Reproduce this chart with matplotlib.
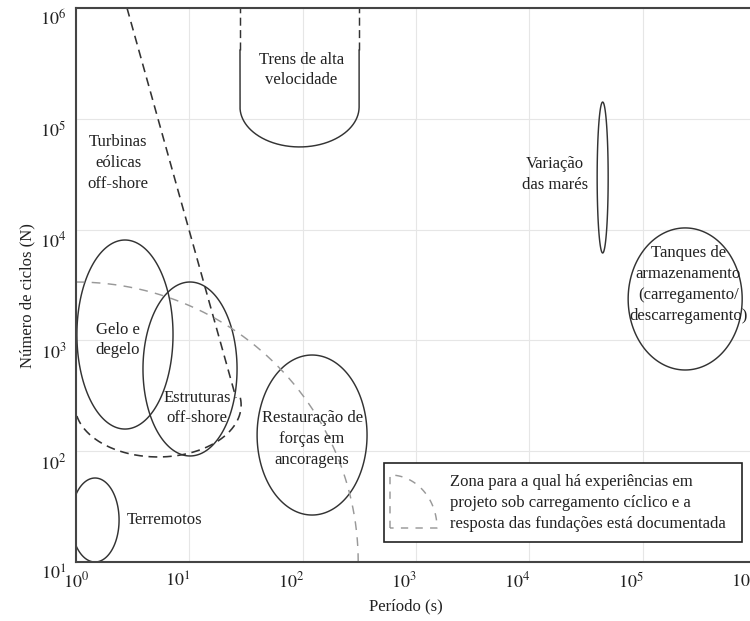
import numpy as np
import matplotlib
matplotlib.use("Agg")
import matplotlib.pyplot as plt
import matplotlib.transforms as mtransforms

plt.rcParams['font.family'] = ['Liberation Serif', 'DejaVu Serif']
plt.rcParams['mathtext.fontset'] = 'stix'

# ---------------- data (log10 units) ----------------
event_labels = ["Terremotos", "Gelo e\ndegelo", "Estruturas\noff-shore",
                "Restauração de\nforças em\nancoragens", "Variação\ndas marés",
                "Tanques de\narmazenamento\n(carregamento/\ndescarregamento)"]
log_period_center = [0.168, 0.432, 1.006, 2.083, 4.647, 5.375]
log_cycles_center = [1.379, 3.053, 2.742, 2.146, 4.470, 3.374]
period_halfspan_dec = [0.212, 0.424, 0.415, 0.485, 0.0485, 0.503]
cycles_halfspan_dec = [0.379, 0.853, 0.785, 0.722, 0.681, 0.641]
label_log_period = [0.450, 0.371, 1.068, 2.083, 4.228, 5.402]
label_log_cycles = [1.379, 3.004, 2.390, 2.110, 4.497, 3.505]
label_ha = ["left", "center", "center", "center", "center", "center"]

# high-speed trains (open-topped U shape)
trens_log_period_edges = [1.447, 2.498]
trens_log_cycles_arc_center = 5.107
trens_log_cycles_arc_half = 0.361
trens_log_cycles_dash_start = 5.62
trens_log_cycles_top = 6.0
trens_label = "Trens de alta\nvelocidade"
trens_label_pos = (1.986, 5.440)

# offshore wind turbines zone
turb_line_log_period = [0.45, 1.412]
turb_line_log_cycles = [6.0, 2.48]
turb_arc_center = (0.724, 2.417)
turb_arc_half = (0.733, 0.469)
turb_label = "Turbinas\neólicas\noff-shore"
turb_label_pos = (0.371, 4.601)

# documented-experience zone (quarter ellipse from lower-left corner)
zone_origin = (0.0, 1.0)
zone_radii = (2.49, 2.527)
legend_text = ("Zona para a qual há experiências em\n"
               "projeto sob carregamento cíclico e a\n"
               "resposta das fundações está documentada")

x_tick_exp = [0, 1, 2, 3, 4, 5, 6]
y_tick_exp = [1, 2, 3, 4, 5, 6]

# ---------------- figure ----------------
W, H = 750, 621
fig = plt.figure(figsize=(W / 100, H / 100), dpi=100)
ax_l, ax_r, ax_t, ax_b = 76, 756, 8, 562
ax = fig.add_axes([ax_l / W, (H - ax_b) / H, (ax_r - ax_l) / W, (ax_b - ax_t) / H])
ax.set_xscale('log')
ax.set_yscale('log')
ax.set_xlim(1e0, 1e6)
ax.set_ylim(1e1, 1e6)

line_col = '#333333'
text_col = '#222222'
lw = 1.05
fs = 12
ls_lab = 1.4

def arc(uc, vc, du, dv, t0, t1, **kw):
    t = np.linspace(t0, t1, 400)
    ax.plot(10 ** (uc + du * np.cos(t)), 10 ** (vc + dv * np.sin(t)), **kw)

# ellipses (closed outlines)
for uc, vc, du, dv in zip(log_period_center, log_cycles_center,
                          period_halfspan_dec, cycles_halfspan_dec):
    t = np.linspace(0, 2 * np.pi, 400, endpoint=False)
    ax.fill(10 ** (uc + du * np.cos(t)), 10 ** (vc + dv * np.sin(t)),
            fill=False, edgecolor=line_col, lw=lw)

for lab, u, v, ha in zip(event_labels, label_log_period, label_log_cycles, label_ha):
    ax.text(10 ** u, 10 ** v, lab, ha=ha, va='center', fontsize=fs,
            linespacing=ls_lab, color=text_col)

# trains
uL, uR = trens_log_period_edges
uc = (uL + uR) / 2
du = (uR - uL) / 2
t = np.linspace(np.pi, 2 * np.pi, 300)
tx = np.concatenate([[10 ** uL], 10 ** (uc + du * np.cos(t)), [10 ** uR]])
ty = np.concatenate([[10 ** trens_log_cycles_dash_start],
                     10 ** (trens_log_cycles_arc_center + trens_log_cycles_arc_half * np.sin(t)),
                     [10 ** trens_log_cycles_dash_start]])
ax.plot(tx, ty, color=line_col, lw=lw)
for ue in trens_log_period_edges:
    ax.plot([10 ** ue, 10 ** ue],
            [10 ** trens_log_cycles_dash_start, 10 ** trens_log_cycles_top],
            color=line_col, lw=lw, dashes=(5.5, 3.0))
ax.text(10 ** trens_label_pos[0], 10 ** trens_label_pos[1], trens_label,
        ha='center', va='center', fontsize=fs, linespacing=ls_lab, color=text_col)

# offshore wind turbines
ax.plot(10 ** np.array(turb_line_log_period), 10 ** np.array(turb_line_log_cycles),
        color=line_col, lw=lw * 1.1, dashes=(5.5, 3.5))
arc(turb_arc_center[0], turb_arc_center[1], turb_arc_half[0], turb_arc_half[1],
    np.deg2rad(8), -np.pi, color=line_col, lw=lw * 1.1, dashes=(5.5, 3.5))
ax.text(10 ** turb_label_pos[0], 10 ** turb_label_pos[1], turb_label,
        ha='center', va='center', fontsize=fs, linespacing=ls_lab, color=text_col)

# documented zone
arc(zone_origin[0], zone_origin[1], zone_radii[0], zone_radii[1], 0, np.pi / 2,
    color='#999999', lw=lw, dashes=(6, 5))

# legend box (axes fraction)
def fx(px):
    return (px - ax_l) / (ax_r - ax_l)

def fy(py):
    return (ax_b - py) / (ax_b - ax_t)

ax.add_patch(plt.Rectangle((fx(384), fy(542)), fx(742) - fx(384), fy(463) - fy(542),
                           transform=ax.transAxes, fill=True, facecolor='white',
                           edgecolor='#222222', lw=1.2, zorder=5))
cx, cy = fx(390), fy(528)
rx, ry = fx(437) - fx(390), fy(475) - fy(528)
t = np.linspace(0, np.pi / 2, 100)
icon_x = np.concatenate([[cx, cx], cx + rx * np.sin(t), [cx]])
icon_y = np.concatenate([[cy, cy + ry], cy + ry * np.cos(t), [cy]])
ax.plot(icon_x, icon_y, transform=ax.transAxes, color='#999999', lw=lw,
        dashes=(5, 5), zorder=6)
ax.text(fx(450), fy(503), legend_text, transform=ax.transAxes, ha='left', va='center',
        fontsize=fs, linespacing=1.42, color=text_col, zorder=6)

# axes styling
ax.set_xticks([10.0 ** k for k in x_tick_exp])
ax.set_yticks([10.0 ** k for k in y_tick_exp])
ax.set_xticklabels([f'$10^{{{k}}}$' for k in x_tick_exp])
ax.set_yticklabels([f'$10^{{{k}}}$' for k in y_tick_exp])
ax.minorticks_off()
ax.tick_params(length=0, labelsize=fs + 1, pad=7, colors=text_col)
ax.grid(True, color='#e6e6e6', lw=0.8)
ax.set_axisbelow(True)
for s in ax.spines.values():
    s.set_color('#444444')
    s.set_linewidth(1.5)

for i, tk in enumerate(ax.xaxis.get_major_ticks()):
    dx = 0 if i == 0 else -12 / 100
    off = mtransforms.ScaledTranslation(dx, 0, fig.dpi_scale_trans)
    tk.label1.set_transform(tk.label1.get_transform() + off)
for tk in ax.yaxis.get_major_ticks():
    off = mtransforms.ScaledTranslation(0, -10 / 100, fig.dpi_scale_trans)
    tk.label1.set_transform(tk.label1.get_transform() + off)

ax.set_xlabel('Período (s)', fontsize=fs, color=text_col)
ax.set_ylabel('Número de ciclos (N)', fontsize=fs, color=text_col)
ax.xaxis.set_label_coords(fx(406), fy(598))
ax.yaxis.set_label_coords(fx(35), fy(296))

fig.savefig('out.png', dpi=100)
